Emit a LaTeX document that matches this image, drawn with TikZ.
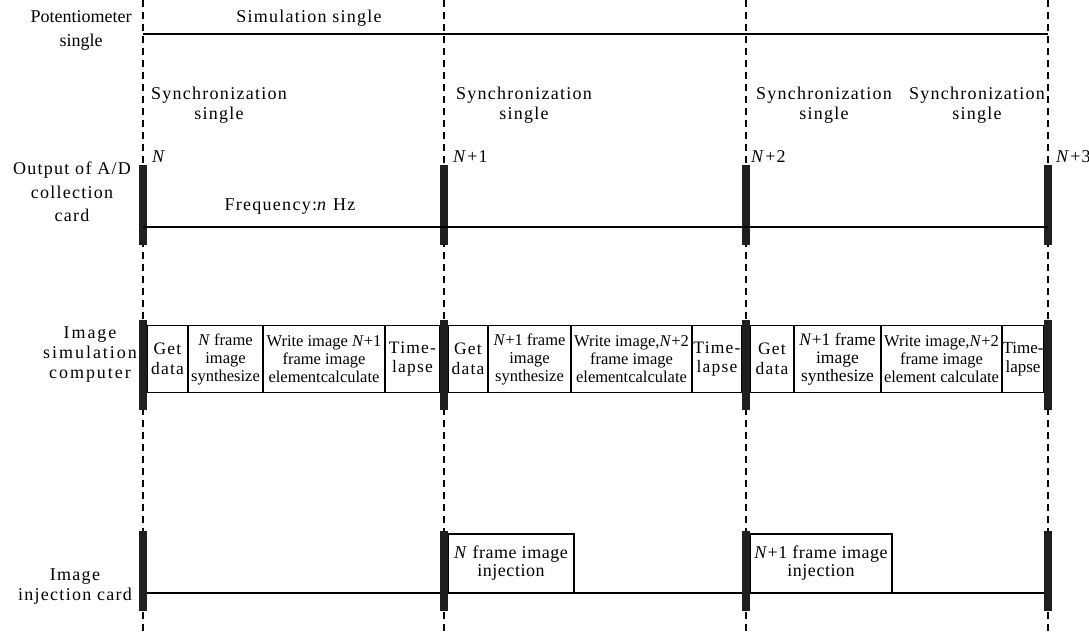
\documentclass[tikz,border=0pt]{standalone}
\usepackage{fontspec}
\setmainfont{Liberation Serif}
\newfontfamily\lsp[LetterSpace=7]{Liberation Serif}
\newfontfamily\lspb[LetterSpace=3]{Liberation Serif}
\newfontfamily\lspc[LetterSpace=11]{Liberation Serif}
\begin{document}
\begin{tikzpicture}[x=1pt,y=-1pt,
  lab/.style={font=\lsp\fontsize{18}{20}\selectfont, align=center, inner sep=0pt},
  plain/.style={font=\fontsize{18}{24}\selectfont, align=center, inner sep=0pt},
  nlab/.style={font=\lsp\fontsize{18}{20}\selectfont, anchor=west, inner sep=0pt},
  dl/.style={line width=1.2pt, dash pattern=on 7pt off 5pt},
  hl/.style={line width=1.4pt},
  bar/.style={rectangle, fill=black!88, draw=none, minimum width=8pt, inner sep=0pt},
  cell/.style={draw, line width=1.2pt, rectangle, align=center, inner sep=0pt,
     font=\fontsize{16.5}{18}\selectfont, minimum height=66.3pt},
  wcell/.style={cell, font=\lsp\fontsize{17.5}{19.5}\selectfont},
  inj/.style={draw, line width=1.2pt, rectangle, align=center, inner sep=0pt,
     font=\lspb\fontsize{18}{18}\selectfont, minimum height=59pt}
]
\useasboundingbox (0,0) rectangle (1089,633);

% dashed time lines
\coordinate (t0) at (143,0);
\coordinate (t1) at (444,0);
\coordinate (t2) at (746,0);
\coordinate (t3) at (1048,0);
\foreach \i in {0,1,2,3} \draw[dl] (t\i) -- ++(0,633);

% potentiometer row
\node[plain] (pot) at (81,30) {Potentiometer\\single};
\node[lab] (sim) at (309,18) {Simulation single};
\coordinate (p0) at (143,34);
\coordinate (p1) at (1048,34);
\draw[hl] (p0) -- (p1);

% synchronization labels
\node[lab] (s0) at (219,105) {Synchronization\\single};
\node[lab] (s1) at (524,105) {Synchronization\\single};
\node[lab] (s2) at (824,105) {Synchronization\\single};
\node[lab] (s3) at (977,105) {Synchronization\\single};

% frame numbers
\node[nlab] (n0) at (152,157) {\textit{N}};
\node[nlab] (n1) at (453,157) {\textit{N}+1};
\node[nlab] (n2) at (751,157) {\textit{N}+2};
\node[nlab] (n3) at (1056,157) {\textit{N}+3};

% A/D row
\node[lab, font=\lsp\fontsize{18}{23.5}\selectfont] (ad) at (72,192) {Output of A/D\\collection\\card};
\node[lab] (freq) at (290,207) {Frequency:\textit{n} Hz};
\node[bar, minimum height=80pt] (a0) at (143,205) {};
\node[bar, minimum height=80pt] (a1) at (444,205) {};
\node[bar, minimum height=80pt] (a2) at (746,205) {};
\node[bar, minimum height=80pt] (a3) at (1048,205) {};
\draw[hl] (a0 |- 0,227) -- (a3 |- 0,227);

% image simulation computer row
\node[lab, font=\lspc\fontsize{18}{20}\selectfont] (comp) at (90,355) {Image\\simulation\\computer};
\node[wcell, minimum width=41pt]  (c11) at (167.5,359) {Get\\data};
\node[cell, minimum width=75pt]  (c12) at (225.5,359) {\textit{N} frame\\image\\synthesize};
\node[cell, minimum width=122pt] (c13) at (324,359) {Write image \textit{N}+1\\frame image\\elementcalculate};
\node[wcell, minimum width=55pt]  (c14) at (412.5,359) {Time-\\lapse};
\node[wcell, minimum width=40pt]  (c21) at (468,359) {Get\\data};
\node[cell, minimum width=83pt]  (c22) at (529.5,359) {\textit{N}+1 frame\\image\\synthesize};
\node[cell, minimum width=121pt] (c23) at (631.5,359) {Write image,\textit{N}+2\\frame image\\elementcalculate};
\node[wcell, minimum width=50pt]  (c24) at (717,359) {Time-\\lapse};
\node[wcell, minimum width=44pt]  (c31) at (772,359) {Get\\data};
\node[cell, minimum width=87pt, font=\fontsize{17.5}{18}\selectfont]  (c32) at (837.5,359) {\textit{N}+1 frame\\image\\synthesize};
\node[cell, minimum width=121pt] (c33) at (941.5,359) {Write image,\textit{N}+2\\frame image\\element calculate};
\node[cell, minimum width=42pt, font=\fontsize{17}{19}\selectfont]  (c34) at (1023,359) {Time-\\lapse};
\node[bar, minimum height=90pt] (b0) at (143,365) {};
\node[bar, minimum height=90pt] (b1) at (444,365) {};
\node[bar, minimum height=90pt] (b2) at (746,365) {};
\node[bar, minimum height=90pt] (b3) at (1048,365) {};

% image injection card row
\node[lab] (injl) at (75,587) {Image\\injection card};
\draw[hl] (143,593) coordinate (h0) -- (1048,593) coordinate (h1);
\node[inj, minimum width=126pt, fill=white] (i1) at (511,563.5) {\textit{N} frame image\\injection};
\node[inj, minimum width=142pt, fill=white] (i2) at (821,563.5) {\textit{N}+1 frame image\\injection};
\node[bar, minimum height=80pt] (j0) at (143,571) {};
\node[bar, minimum height=80pt] (j1) at (444,571) {};
\node[bar, minimum height=80pt] (j2) at (746,571) {};
\node[bar, minimum height=80pt] (j3) at (1048,571) {};
\end{tikzpicture}
\end{document}
